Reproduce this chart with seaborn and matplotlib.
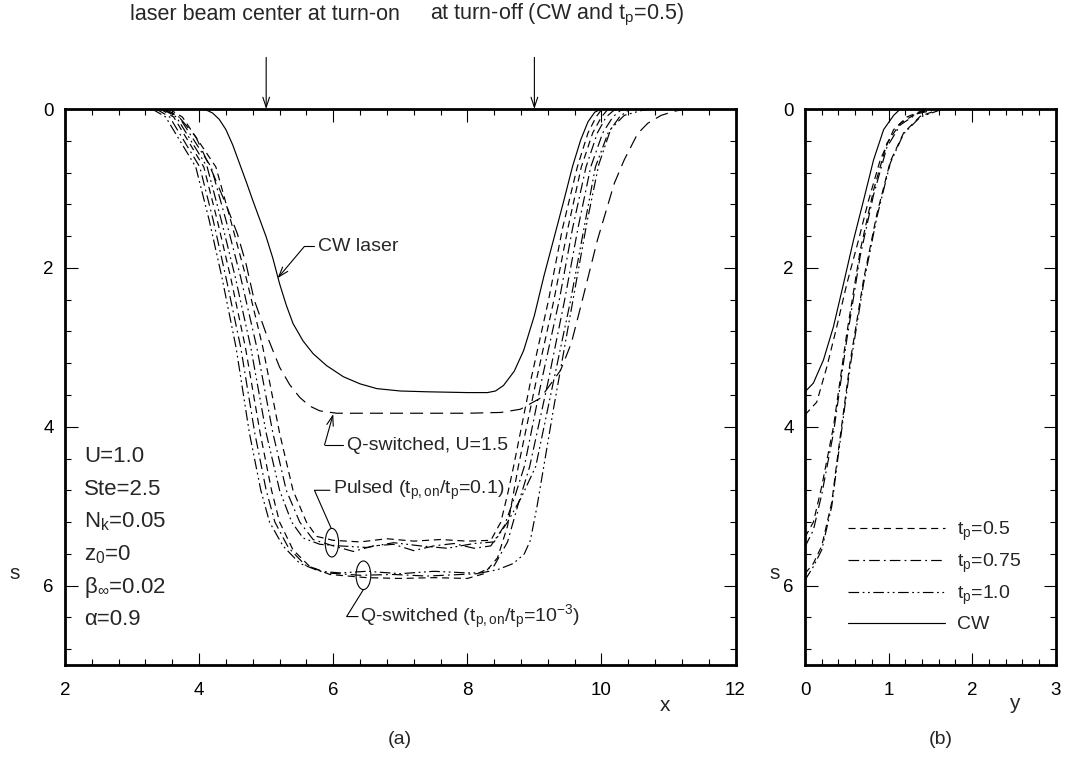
import numpy as np
import pandas as pd
import seaborn as sns
import matplotlib.pyplot as plt
from matplotlib.lines import Line2D
from matplotlib.patches import Ellipse
from matplotlib.ticker import MultipleLocator

sns.set_theme(style="ticks")
plt.rcParams['font.family'] = ['Liberation Sans', 'DejaVu Sans']
plt.rcParams['mathtext.fontset'] = 'custom'
plt.rcParams['mathtext.rm'] = 'Liberation Sans'
plt.rcParams['mathtext.it'] = 'Liberation Sans'
plt.rcParams['mathtext.default'] = 'regular'

# ---------------- panel (a): s vs x ----------------
cw_x = [4.0, 4.1, 4.2, 4.3, 4.4, 4.5, 4.6, 4.7, 4.8, 4.9, 5.0, 5.1, 5.2, 5.3, 5.4, 5.55, 5.7,
        5.9, 6.15, 6.4, 6.65, 7.0, 7.4, 8.0, 8.3, 8.42, 8.54, 8.7, 8.84, 9.0, 9.14, 9.3, 9.44,
        9.57, 9.69, 9.8, 9.9, 10.0]
cw_s = [0.0, 0.01, 0.05, 0.13, 0.26, 0.45, 0.68, 0.91, 1.15, 1.38, 1.61, 1.88, 2.2, 2.47, 2.7,
        2.92, 3.08, 3.23, 3.37, 3.46, 3.52, 3.55, 3.56, 3.57, 3.57, 3.55, 3.48, 3.3, 3.04, 2.6,
        2.11, 1.6, 1.15, 0.72, 0.39, 0.16, 0.04, 0.0]

u15_x = [3.45, 3.7, 3.95, 4.2, 4.4, 4.57, 4.7, 4.82, 5.0, 5.2, 5.35, 5.5, 5.65, 5.8, 6.05, 7.0,
         8.0, 8.5, 8.79, 9.09, 9.39, 9.55, 9.69, 9.94, 10.19, 10.34, 10.54, 10.69, 10.89,
         11.08, 11.25]
u15_s = [0.0, 0.1, 0.35, 0.8, 1.2, 1.57, 1.95, 2.4, 2.83, 3.25, 3.47, 3.63, 3.74, 3.8, 3.83,
         3.83, 3.83, 3.82, 3.78, 3.64, 3.29, 2.95, 2.49, 1.65, 0.94, 0.64, 0.31, 0.18, 0.08,
         0.03, 0.0]

# pulsed (t_p,on/t_p = 0.1)
p05_x = [3.55, 3.75, 4.25, 4.47, 4.7, 4.95, 5.2, 5.4, 5.6, 5.75, 6.0, 6.4, 6.8, 7.2, 7.6, 8.0,
         8.35, 8.5, 8.6, 8.69, 8.95, 9.21, 9.42, 9.64, 9.8, 9.92, 9.99, 10.05]
p05_s = [0.0, 0.1, 0.73, 1.4, 2.12, 3.0, 4.08, 4.8, 5.2, 5.38, 5.43, 5.45, 5.41, 5.44, 5.42, 5.44,
         5.43, 5.2, 4.85, 4.5, 3.4, 2.41, 1.5, 0.73, 0.3, 0.1, 0.02, 0.0]

p075_x = [3.5, 3.7, 4.18, 4.4, 4.62, 4.86, 5.1, 5.3, 5.5, 5.7, 6.0, 6.3, 6.6, 6.9, 7.2, 7.5, 7.8,
          8.1, 8.35, 8.55, 8.7, 8.85, 9.1, 9.37, 9.57, 9.77, 9.94, 10.07, 10.18, 10.25]
p075_s = [0.0, 0.1, 0.73, 1.4, 2.12, 3.0, 4.08, 4.8, 5.2, 5.42, 5.5, 5.57, 5.5, 5.48, 5.56, 5.5,
          5.47, 5.53, 5.5, 5.25, 4.9, 4.5, 3.45, 2.41, 1.5, 0.73, 0.3, 0.1, 0.02, 0.0]

p10_x = [3.45, 3.66, 4.12, 4.33, 4.54, 4.77, 5.0, 5.2, 5.38, 5.55, 5.8, 6.1, 6.5, 6.9, 7.3, 7.7,
         8.1, 8.4, 8.6, 8.8, 9.02, 9.28, 9.54, 9.74, 9.91, 10.1, 10.27, 10.39, 10.46]
p10_s = [0.0, 0.1, 0.73, 1.4, 2.12, 3.0, 4.08, 4.8, 5.2, 5.4, 5.48, 5.5, 5.52, 5.46, 5.5, 5.53,
         5.47, 5.45, 5.2, 4.9, 4.5, 3.45, 2.41, 1.5, 0.73, 0.3, 0.1, 0.02, 0.0]

# Q-switched (t_p,on/t_p = 1e-3)
q05_x = [3.42, 3.62, 4.07, 4.27, 4.47, 4.69, 4.91, 5.08, 5.2, 5.4, 5.65, 5.95, 6.5, 7.0, 7.5,
         8.0, 8.25, 8.45, 8.6, 8.76, 9.02, 9.29, 9.5, 9.7, 9.87, 10.0, 10.08, 10.15]
q05_s = [0.0, 0.1, 0.73, 1.4, 2.12, 3.0, 4.08, 4.8, 5.2, 5.55, 5.76, 5.86, 5.9, 5.91, 5.9,
         5.91, 5.85, 5.65, 5.25, 4.5, 3.45, 2.41, 1.5, 0.73, 0.3, 0.1, 0.02, 0.0]

q075_x = [3.36, 3.56, 4.01, 4.21, 4.4, 4.62, 4.83, 5.0, 5.13, 5.33, 5.58, 5.9, 6.4, 6.9, 7.4,
          7.9, 8.15, 8.4, 8.6, 8.75, 8.93, 9.2, 9.45, 9.65, 9.84, 10.02, 10.17, 10.28, 10.36]
q075_s = [0.0, 0.1, 0.73, 1.4, 2.12, 3.0, 4.08, 4.8, 5.2, 5.52, 5.74, 5.84, 5.87, 5.86, 5.88,
          5.86, 5.85, 5.75, 5.45, 5.0, 4.5, 3.45, 2.41, 1.5, 0.73, 0.3, 0.1, 0.02, 0.0]

q10_x = [3.3, 3.5, 3.95, 4.15, 4.34, 4.55, 4.75, 4.92, 5.05, 5.25, 5.5, 5.8, 6.1, 6.5, 7.0, 7.5,
         8.0, 8.2, 8.45, 8.69, 8.85, 8.94, 9.04, 9.14, 9.29, 9.46, 9.64, 9.79, 9.96, 10.14, 10.34,
         10.59, 10.8]
q10_s = [0.0, 0.1, 0.73, 1.4, 2.12, 3.0, 4.08, 4.8, 5.2, 5.5, 5.72, 5.82, 5.84, 5.82, 5.85, 5.82,
         5.84, 5.84, 5.8, 5.72, 5.6, 5.43, 5.0, 4.5, 3.75, 2.95, 2.1, 1.4, 0.7, 0.25, 0.08, 0.02, 0.0]

# ---------------- panel (b): s vs y ----------------
bcw_y = [0.0, 0.1, 0.22, 0.34, 0.46, 0.58, 0.7, 0.82, 0.94, 1.06, 1.14]
bcw_s = [3.56, 3.45, 3.16, 2.74, 2.2, 1.65, 1.15, 0.64, 0.26, 0.08, 0.0]

bu15_y = [0.0, 0.14, 0.26, 0.38, 0.5, 0.64, 0.76, 0.9, 1.06, 1.22, 1.38, 1.5]
bu15_s = [3.85, 3.69, 3.25, 2.74, 2.2, 1.65, 1.15, 0.64, 0.26, 0.1, 0.03, 0.0]

bp05_y = [0.0, 0.1, 0.2, 0.34, 0.5, 0.66, 0.82, 0.98, 1.14, 1.34, 1.55]
bp05_s = [5.39, 5.2, 4.75, 4.0, 2.82, 1.78, 1.02, 0.43, 0.18, 0.05, 0.0]

bp075_y = [0.0, 0.1, 0.2, 0.34, 0.5, 0.66, 0.82, 0.98, 1.14, 1.34, 1.6]
bp075_s = [5.51, 5.3, 4.85, 4.08, 2.9, 1.85, 1.08, 0.48, 0.2, 0.06, 0.0]

bq05_y = [0.0, 0.1, 0.2, 0.32, 0.38, 0.54, 0.7, 0.86, 1.02, 1.18, 1.38, 1.62]
bq05_s = [5.85, 5.72, 5.5, 4.95, 4.45, 3.18, 2.15, 1.32, 0.66, 0.3, 0.09, 0.0]

bq10_y = [0.0, 0.1, 0.2, 0.32, 0.38, 0.54, 0.7, 0.86, 1.02, 1.18, 1.38, 1.65]
bq10_s = [5.93, 5.76, 5.55, 5.0, 4.5, 3.24, 2.2, 1.36, 0.68, 0.31, 0.1, 0.0]

legend_labels = ["t$_p$=0.5", "t$_p$=0.75", "t$_p$=1.0", "CW"]

SOLID = "-"
DASH = (0, (6, 4))
LONGDASH = (0, (11, 6))
DASHDOT = (0, (9, 3.5, 1.5, 3.5))
DASHDOTDOT = (0, (9, 3, 1.5, 3, 1.5, 3))

fig = plt.figure(figsize=(10.66, 7.77), dpi=100)
ax = fig.add_axes([0.061, 0.1441, 0.629, 0.7156])
axb = fig.add_axes([0.7552, 0.1441, 0.2352, 0.7156])


def draw(axis, xs, ss, ls, lw=0.85):
    df = pd.DataFrame({"x": xs, "s": ss})
    sns.lineplot(data=df, x="x", y="s", ax=axis, sort=False, estimator=None,
                 color="black", linewidth=lw, linestyle=ls)


draw(ax, cw_x, cw_s, SOLID)
draw(ax, u15_x, u15_s, LONGDASH)
draw(ax, p05_x, p05_s, DASH)
draw(ax, p075_x, p075_s, DASHDOT)
draw(ax, p10_x, p10_s, DASHDOTDOT)
draw(ax, q05_x, q05_s, DASH)
draw(ax, q075_x, q075_s, DASHDOT)
draw(ax, q10_x, q10_s, DASHDOTDOT)

draw(axb, bcw_y, bcw_s, SOLID)
draw(axb, bu15_y, bu15_s, DASH)
draw(axb, bp05_y, bp05_s, DASH)
draw(axb, bp075_y, bp075_s, DASHDOT)
draw(axb, bq05_y, bq05_s, DASH)
draw(axb, bq10_y, bq10_s, DASHDOTDOT)

for a in (ax, axb):
    a.set_ylim(7, 0)
    a.yaxis.set_major_locator(MultipleLocator(2))
    a.yaxis.set_minor_locator(MultipleLocator(0.4))
    a.tick_params(which="both", direction="in", top=True, right=True, width=0.8,
                  labelsize=13.5, colors="black")
    a.tick_params(axis="y", pad=8)
    a.tick_params(axis="x", pad=12)
    a.tick_params(which="major", length=9)
    a.tick_params(which="minor", length=4.5)
    for sp in a.spines.values():
        sp.set_linewidth(2.0)
        sp.set_color("black")
    a.set_xlabel("")
    a.set_ylabel("")

ax.set_xlim(2, 12)
ax.xaxis.set_major_locator(MultipleLocator(2))
ax.xaxis.set_minor_locator(MultipleLocator(0.4))
axb.set_xlim(0, 3)
axb.xaxis.set_major_locator(MultipleLocator(1))
axb.xaxis.set_minor_locator(MultipleLocator(0.2))

# axis labels
ax.text(-0.075, 0.165, "s", transform=ax.transAxes, fontsize=15, ha="center", va="center")
axb.text(-0.12, 0.165, "s", transform=axb.transAxes, fontsize=15, ha="center", va="center")
ax.text(0.895, -0.072, "x", transform=ax.transAxes, fontsize=15, ha="center", va="center")
axb.text(0.833, -0.07, "y", transform=axb.transAxes, fontsize=15, ha="center", va="center")

# parameter block
params = ["U=1.0", "Ste=2.5", "N$_k$=0.05", "z$_0$=0", "β$_∞$=0.02", "α=0.9"]
for i, t in enumerate(params):
    ax.text(2.28, 4.38 + i * 0.41, t, fontsize=16, ha="left", va="center")

arrow = dict(arrowstyle="->,head_length=0.6,head_width=0.2", color="black", lw=0.8,
             shrinkA=0, shrinkB=0)

# CW laser
ax.plot([5.57, 5.72], [1.73, 1.73], color="black", lw=0.8)
ax.annotate("", xy=(5.17, 2.13), xytext=(5.57, 1.73), arrowprops=arrow)
ax.text(5.78, 1.73, "CW laser", fontsize=14, ha="left", va="center")

# Q-switched, U=1.5
ax.plot([5.87, 6.15], [4.23, 4.23], color="black", lw=0.8)
ax.annotate("", xy=(6.0, 3.84), xytext=(5.87, 4.23), arrowprops=arrow)
ax.text(6.21, 4.23, "Q-switched, U=1.5", fontsize=14, ha="left", va="center")

# Pulsed
ax.add_patch(Ellipse((5.98, 5.46), 0.2, 0.36, fill=False, color="black", lw=0.8))
ax.plot([5.97, 5.72, 5.95], [5.28, 4.8, 4.8], color="black", lw=0.8)
ax.text(6.0, 4.8, "Pulsed (t$_{p,on}$/t$_p$=0.1)", fontsize=14, ha="left", va="center")

# Q-switched
ax.add_patch(Ellipse((6.45, 5.87), 0.22, 0.36, fill=False, color="black", lw=0.8))
ax.plot([6.45, 6.2, 6.37], [6.05, 6.39, 6.39], color="black", lw=0.8)
ax.text(6.4, 6.39, "Q-switched (t$_{p,on}$/t$_p$=10$^{-3}$)", fontsize=14, ha="left", va="center")

# top arrows
ax.annotate("", xy=(5, 0), xytext=(5, -0.65), arrowprops=arrow, annotation_clip=False)
ax.annotate("", xy=(9, 0), xytext=(9, -0.65), arrowprops=arrow, annotation_clip=False)
fig.text(265 / 1066, 1 - 15 / 777, "laser beam center at turn-on", fontsize=15.5,
         ha="center", va="center")
fig.text(557 / 1066, 1 - 15 / 777, "at turn-off (CW and t$_p$=0.5)", fontsize=15.5,
         ha="center", va="center")

# panel letters
fig.text(400 / 1066, 1 - 740 / 777, "(a)", fontsize=14, ha="center", va="center")
fig.text(941 / 1066, 1 - 740 / 777, "(b)", fontsize=14, ha="center", va="center")

# legend in panel (b)
handles = [Line2D([], [], color="black", lw=0.85, linestyle=DASH),
           Line2D([], [], color="black", lw=0.85, linestyle=DASHDOT),
           Line2D([], [], color="black", lw=0.85, linestyle=DASHDOTDOT),
           Line2D([], [], color="black", lw=0.85, linestyle=SOLID)]
axb.legend(handles, legend_labels, loc="center left", bbox_to_anchor=(0.172, 0.159),
           frameon=False, fontsize=14, handlelength=5.0, handletextpad=0.6,
           labelspacing=0.45, borderpad=0, borderaxespad=0)

fig.savefig("out.png", dpi=100)
